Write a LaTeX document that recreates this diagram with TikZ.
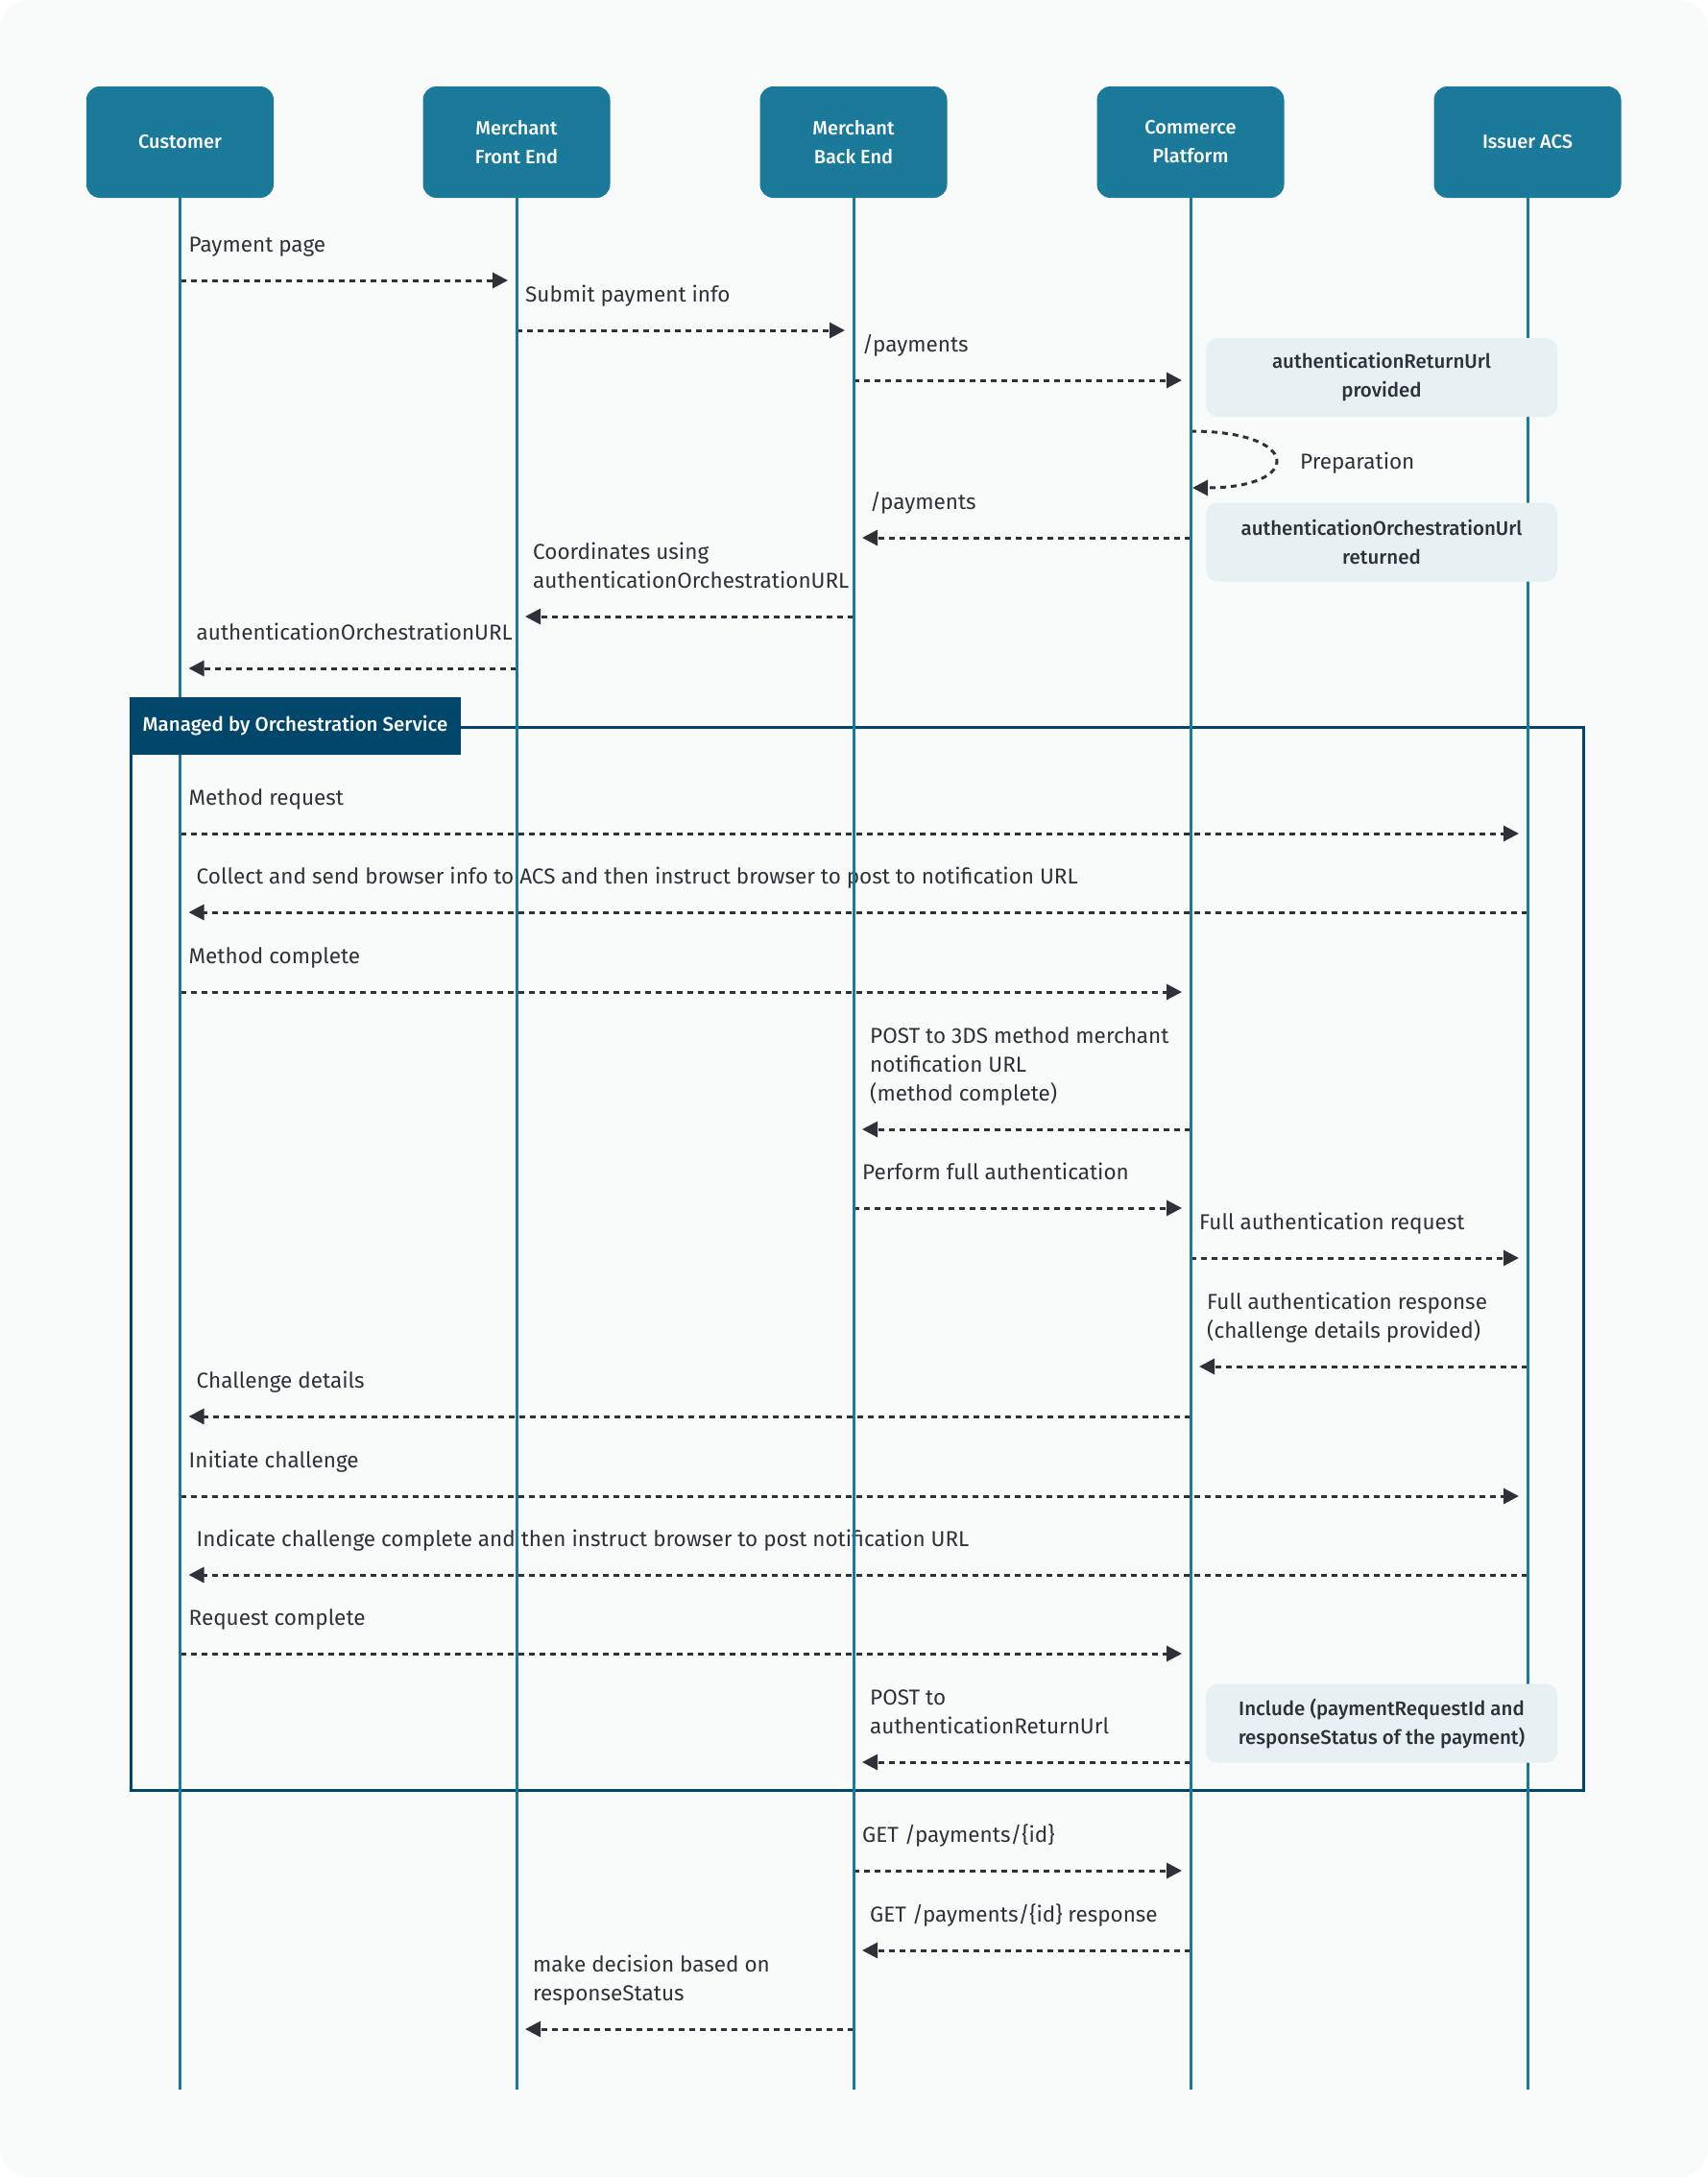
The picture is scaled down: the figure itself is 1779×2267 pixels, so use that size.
\documentclass[tikz,border=0pt]{standalone}
\usepackage{fontspec}
\setmainfont{Fira Sans}
\newfontfamily\fmed{Fira Sans Medium}
\usetikzlibrary{arrows.meta}
\definecolor{bgc}{HTML}{F9FBFB}
\definecolor{lifeteal}{HTML}{1B7A99}
\definecolor{navyc}{HTML}{00476B}
\definecolor{notec}{HTML}{E7F1F4}
\definecolor{txtc}{HTML}{2E3138}
\newcommand\msgR[4]{\coordinate (#1s) at (#3,#2); \coordinate (#1e) at ({#4-9},#2); \draw[msg] (#1s) -- (#1e);}
\newcommand\msgL[4]{\coordinate (#1s) at (#3,#2); \coordinate (#1e) at ({#4+9},#2); \draw[msg] (#1s) -- (#1e);}
\newcommand\twol[2]{\vbox{\hbox{#1}\hbox{#2}}}
\newcommand\threel[3]{\vbox{\hbox{#1}\hbox{#2}\hbox{#3}}}
\begin{document}
\begin{tikzpicture}[x=1pt,y=-1pt,
  actor/.style={fill=lifeteal, rounded corners=14pt, minimum width=195pt, minimum height=116pt, text=white, font=\fontsize{20}{30}\selectfont\fmed, align=center, inner sep=0pt},
  lifeline/.style={draw=lifeteal, line width=3pt},
  msg/.style={draw=txtc, line width=3pt, dash pattern=on 6pt off 5pt, -{Triangle[length=16pt,width=16pt]}},
  lbl/.style={anchor=base west, inner sep=0pt, text=txtc, font=\fontsize{22.5}{30}\selectfont},
  notebox/.style={fill=notec, rounded corners=12pt, minimum width=366pt, minimum height=82pt, text=txtc, font=\fontsize{20.5}{30}\selectfont\fmed, align=center, inner sep=0pt},
  tabbox/.style={fill=navyc, minimum width=345pt, minimum height=60pt, text=white, font=\fontsize{20.5}{24}\selectfont\fmed, inner sep=0pt}
]
\useasboundingbox (0,0) rectangle (1779,2267);
\fill[white] (0,0) rectangle (1779,2267);
\fill[bgc, rounded corners=30pt] (0,0) rectangle (1779,2267);

\def\xA{187.5}\def\xB{538}\def\xC{889}\def\xD{1240}\def\xE{1591}

% frame
\node[draw=navyc, line width=3pt, minimum width=1513pt, minimum height=1107pt, inner sep=0pt] (frame) at (892.5,1310.5) {};

% messages
\msgR{m1}{292}{\xA}{\xB}
\msgR{m2}{344}{\xB}{\xC}
\msgR{m3}{396}{\xC}{\xD}
\coordinate (lps) at (\xD,449);
\coordinate (lpe) at (1242,508);
\draw[msg] (lps) .. controls (1357,449) and (1357,508) .. (lpe);
\msgL{m5}{560}{\xD}{\xC}
\msgL{m6}{642}{\xC}{\xB}
\msgL{m7}{696}{\xB}{\xA}
\msgR{m8}{868}{\xA}{\xE}
\msgL{m9}{950}{\xE}{\xA}
\msgR{m10}{1033}{\xA}{\xD}
\msgL{m11}{1176}{\xD}{\xC}
\msgR{m12}{1258}{\xC}{\xD}
\msgR{m13}{1310}{\xD}{\xE}
\msgL{m14}{1423}{\xE}{\xD}
\msgL{m15}{1475}{\xD}{\xA}
\msgR{m16}{1558}{\xA}{\xE}
\msgL{m17}{1640}{\xE}{\xA}
\msgR{m18}{1722}{\xA}{\xD}
\msgL{m19}{1835}{\xD}{\xC}
\msgR{m20}{1948}{\xC}{\xD}
\msgL{m21}{2031}{\xD}{\xC}
\msgL{m22}{2113}{\xC}{\xB}

% labels
\node[lbl] (t1) at (196.5,262) {Payment page};
\node[lbl] (t2) at (547,314) {Submit payment info};
\node[lbl] (t3) at (898,366) {/payments};
\node[lbl] (t4) at (1354,488) {Preparation};
\node[lbl] (t5) at (906,530) {/payments};
\node[lbl] (t6) at (555,612) {\twol{Coordinates using}{authenticationOrchestrationURL}};
\node[lbl] (t7) at (204.5,666) {authenticationOrchestrationURL};
\node[lbl] (t8) at (196.5,838) {Method request};
\node[lbl] (t9) at (204.5,920) {Collect and send browser info to ACS and then instruct browser to post to notification URL};
\node[lbl] (t10) at (196.5,1003) {Method complete};
\node[lbl] (t11) at (906,1146) {\threel{POST to 3DS method merchant}{notification URL}{(method complete)}};
\node[lbl] (t12) at (898,1228) {Perform full authentication};
\node[lbl] (t13) at (1249,1280) {Full authentication request};
\node[lbl] (t14) at (1257,1393) {\twol{Full authentication response}{(challenge details provided)}};
\node[lbl] (t15) at (204.5,1445) {Challenge details};
\node[lbl] (t16) at (196.5,1528) {Initiate challenge};
\node[lbl] (t17) at (204.5,1610) {Indicate challenge complete and then instruct browser to post notification URL};
\node[lbl] (t18) at (196.5,1692) {Request complete};
\node[lbl] (t19) at (906,1805) {\twol{POST to}{authenticationReturnUrl}};
\node[lbl] (t20) at (898,1918) {GET /payments/\{id\}};
\node[lbl] (t21) at (906,2001) {GET /payments/\{id\} response};
\node[lbl] (t22) at (555,2083) {\twol{make decision based on}{responseStatus}};

% actors
\node[actor] (A) at (\xA,148) {Customer};
\node[actor] (B) at (\xB,148) {Merchant\\Front End};
\node[actor] (C) at (\xC,148) {Merchant\\Back End};
\node[actor] (D) at (\xD,148) {Commerce\\Platform};
\node[actor] (E) at (\xE,148) {Issuer ACS};

% lifelines
\foreach \n/\x in {A/\xA,B/\xB,C/\xC,D/\xD,E/\xE}{
  \coordinate (\n end) at (\x,2176);
  \draw[lifeline] (\n.south) -- (\n end);
}

% notes
\node[notebox] (n1) at (1439,393) {authenticationReturnUrl\\provided};
\node[notebox] (n2) at (1439,564.5) {authenticationOrchestrationUrl\\returned};
\node[notebox] (n3) at (1439,1794.5) {Include (paymentRequestId and\\responseStatus of the payment)};

% frame tab
\node[tabbox] (tab) at (307.5,756) {Managed by Orchestration Service};
\end{tikzpicture}
\end{document}
